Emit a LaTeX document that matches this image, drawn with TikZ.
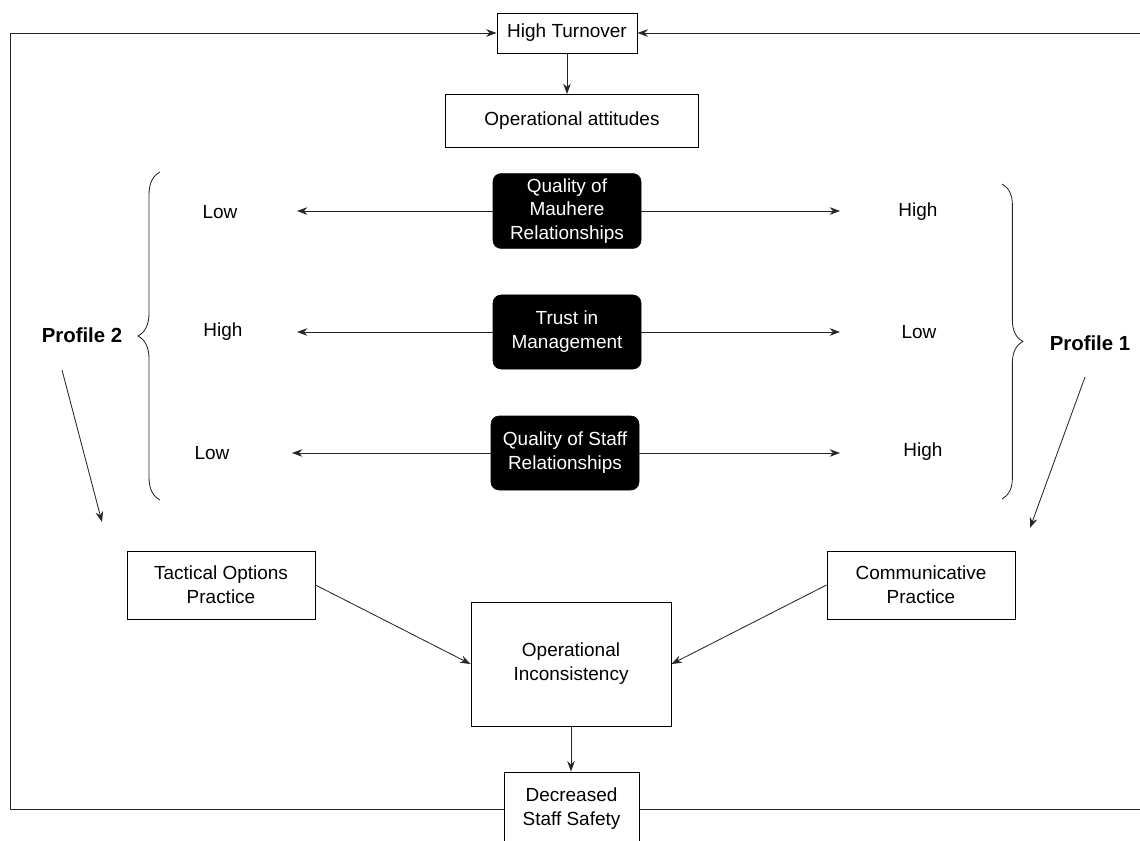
\documentclass[tikz,border=0pt]{standalone}
\usepackage{fontspec}
\setmainfont{Liberation Sans}
\usepackage{tikz}
\usetikzlibrary{arrows.meta, decorations.pathreplacing}
\tikzstyle{nodoBox} = [rectangle, draw=black, line width=0.7pt, align=center, text centered, font=\fontsize{13.5}{17}\selectfont]
\tikzstyle{nodoBlack} = [rectangle, rounded corners=0.2cm, fill=black, draw=black, text=white, minimum width=3.7cm, minimum height=1.85cm, align=center, text centered, font=\fontsize{13.5}{17}\selectfont]
\tikzstyle{nodoText} = [align=center, font=\fontsize{13.5}{17}\selectfont]
\tikzstyle{nodoProfile} = [align=center, font=\fontsize{14.5}{17}\selectfont\bfseries]
\tikzstyle{flecha} = [-{Stealth[length=2.6mm, width=1.9mm]}, line width=0.6pt, draw=black!85]

\begin{document}
\begin{tikzpicture}
    \useasboundingbox (0,0) rectangle (28.5,-21.025);

    \node (HT) [nodoBox, minimum width=3.5cm, minimum height=1cm] at (14.175,-0.825) {High Turnover};
    \node (OA) [nodoBox, minimum width=6.325cm, minimum height=1.325cm] at (14.3,-3.025) {Operational attitudes};

    \node (Q1) [nodoBlack] at (14.175,-5.275) {Quality of\\Mauhere\\Relationships};
    \node (Q2) [nodoBlack] at (14.175,-8.3) {Trust in\\Management};
    \node (Q3) [nodoBlack] at (14.125,-11.325) {Quality of Staff\\Relationships};

    \node (L1void) [nodoText] at (5.5,-5.3) {Low};
    \node (L2void) [nodoText] at (5.575,-8.3) {High};
    \node (L3void) [nodoText] at (5.3,-11.325) {Low};
    \node (R1void) [nodoText] at (22.95,-5.3) {High};
    \node (R2void) [nodoText] at (22.975,-8.3) {Low};
    \node (R3void) [nodoText] at (23.075,-11.3) {High};

    \coordinate (L1) at (7.425,-5.275);
    \coordinate (L2) at (7.425,-8.3);
    \coordinate (L3) at (7.3,-11.325);
    \coordinate (R1) at (21.0,-5.275);
    \coordinate (R2) at (21.0,-8.3);
    \coordinate (R3) at (21.0,-11.325);

    \draw[flecha] (Q1.west) -- (L1);
    \draw[flecha] (Q1.east) -- (R1);
    \draw[flecha] (Q2.west) -- (L2);
    \draw[flecha] (Q2.east) -- (R2);
    \draw[flecha] (Q3.west) -- (L3);
    \draw[flecha] (Q3.east) -- (R3);

    \draw[line width=0.6pt, draw=black!85, decorate, decoration={brace, amplitude=0.55cm}] (4.0,-12.5) -- (4.0,-4.3);
    \draw[line width=0.6pt, draw=black!85, decorate, decoration={brace, amplitude=0.52cm}] (25.05,-4.6) -- (25.05,-12.475);

    \node (P2) [nodoProfile] at (2.05,-8.375) {Profile 2};
    \node (P1) [nodoProfile] at (27.25,-8.575) {Profile 1};
    \coordinate (P2a) at (1.55,-9.25);
    \coordinate (P2b) at (2.55,-13.05);
    \coordinate (P1a) at (27.125,-9.425);
    \coordinate (P1b) at (25.75,-13.2);
    \draw[flecha] (P2a) -- (P2b);
    \draw[flecha] (P1a) -- (P1b);

    \node (TOP) [nodoBox, minimum width=4.7cm, minimum height=1.7cm] at (5.525,-14.625) {Tactical Options\\Practice};
    \node (CP) [nodoBox, minimum width=4.7cm, minimum height=1.7cm] at (23.025,-14.625) {Communicative\\Practice};
    \node (OI) [nodoBox, minimum width=5cm, minimum height=3.1cm] at (14.275,-16.6) {Operational\\Inconsistency};
    \node (DSS) [nodoBox, minimum width=3.375cm, minimum height=1.85cm] at (14.2875,-20.225) {Decreased\\Staff Safety};

    \draw[flecha] (HT.south) -- (HT.south |- OA.north);
    \draw[flecha] (TOP.east) -- (OI.west);
    \draw[flecha] (CP.west) -- (OI.east);
    \draw[flecha] (OI.south) -- (OI.south |- DSS.north);

    \coordinate (LoopL) at (0.25,-0.825);
    \coordinate (LoopR) at (28.7,-0.825);
    \draw[flecha] (DSS.west) -| (LoopL) -- (HT.west);
    \draw[flecha] (DSS.east) -| (LoopR) -- (HT.east);
\end{tikzpicture}
\end{document}
